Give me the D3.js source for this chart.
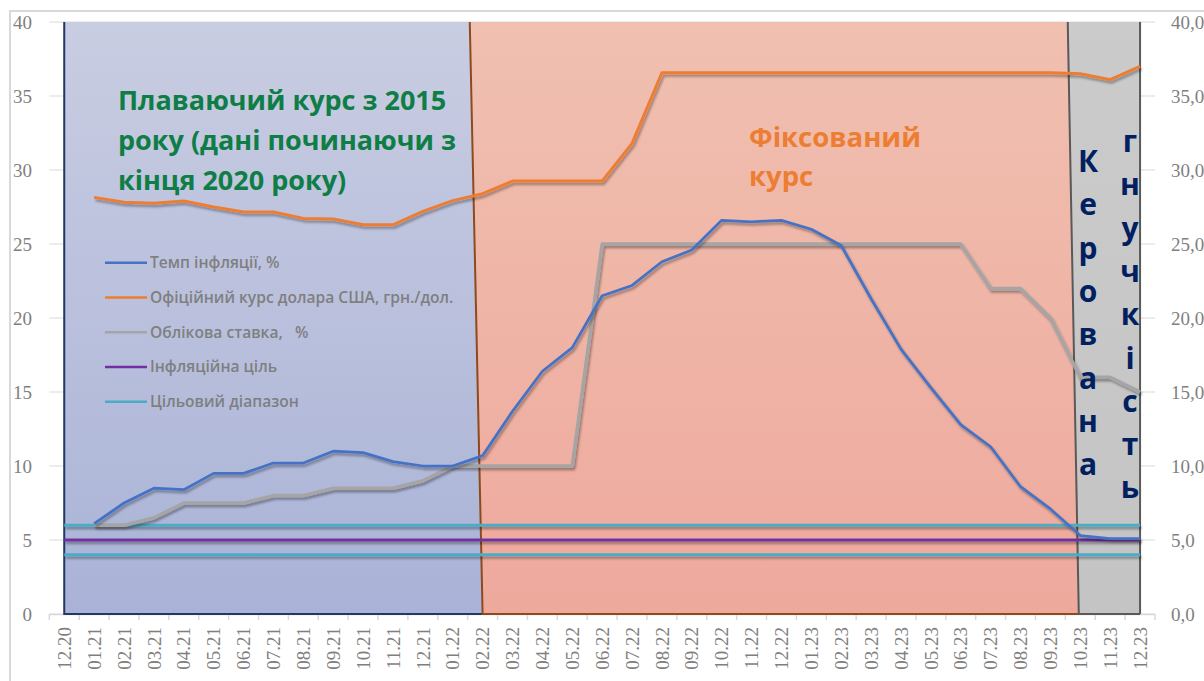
<!DOCTYPE html>
<html>
<head>
<meta charset="utf-8">
<script src="https://cdn.jsdelivr.net/npm/d3@7"></script>
<style>
  html, body { margin: 0; padding: 0; background: #fff; }
  svg { display: block; }
</style>
</head>
<body>
<div id="chart"></div>
<script>
// Months (12.20 .. 12.23)
var months = ["12.20","01.21","02.21","03.21","04.21","05.21","06.21","07.21","08.21","09.21","10.21","11.21",
  "12.21","01.22","02.22","03.22","04.22","05.22","06.22","07.22","08.22","09.22","10.22","11.22",
  "12.22","01.23","02.23","03.23","04.23","05.23","06.23","07.23","08.23","09.23","10.23","11.23","12.23"];

// Inflation, %
var inflation = [null, 6.1, 7.5, 8.5, 8.4, 9.5, 9.5, 10.2, 10.2, 11.0, 10.9, 10.3, 10.0, 10.0, 10.7,
  13.7, 16.4, 18.0, 21.5, 22.2, 23.8, 24.6, 26.6, 26.5, 26.6, 26.0, 24.9, 21.3, 17.9, 15.3, 12.8,
  11.3, 8.6, 7.1, 5.3, 5.1, 5.1];

// Official UAH/USD rate
var usdRate = [null, 28.15, 27.82, 27.75, 27.9, 27.5, 27.16, 27.16, 26.73, 26.69, 26.3, 26.3, 27.2, 27.93, 28.4,
  29.25, 29.25, 29.25, 29.25, 31.8, 36.57, 36.57, 36.57, 36.57, 36.57, 36.57, 36.57, 36.57, 36.57, 36.57,
  36.57, 36.57, 36.57, 36.57, 36.5, 36.1, 37.0];

// Key policy rate, %
var keyRate = [null, 6, 6, 6.5, 7.5, 7.5, 7.5, 8, 8, 8.5, 8.5, 8.5, 9, 10, 10, 10, 10, 10,
  25, 25, 25, 25, 25, 25, 25, 25, 25, 25, 25, 25, 25, 22, 22, 20, 16, 16, 15];

// Inflation target and target range
var target = months.map(function() { return 5; });
var rangeLow = months.map(function() { return 4; });
var rangeHigh = months.map(function() { return 6; });

// Regime periods (month index; top / bottom edge of each slanted boundary)
var regimes = [
  { key: "float",   topFrom: 0,     topTo: 13.57, botFrom: 0,     botTo: 14 },
  { key: "fixed",   topFrom: 13.57, topTo: 33.58, botFrom: 14,    botTo: 33.95 },
  { key: "managed", topFrom: 33.58, topTo: 36,    botFrom: 33.95, botTo: 36 }
];

var yTicks = [0, 5, 10, 15, 20, 25, 30, 35, 40];

var legendItems = [
  { label: "Темп інфляції, %", color: "#4472c4" },
  { label: "Офіційний курс долара США, грн./дол.", color: "#ed7d31" },
  { label: "Облікова ставка,   %", color: "#a5a5a5" },
  { label: "Інфляційна ціль", color: "#7030a0" },
  { label: "Цільовий діапазон", color: "#4bacc6" }
];

var W = 1204, H = 681;
var svg = d3.select("#chart").append("svg").attr("width", W).attr("height", H);
var defs = svg.append("defs");

var x = d3.scaleBand().domain(months).range([49.3, 1155]).padding(0);
var bw = x.bandwidth();
var cx = function(i) { return x(months[i]) + bw / 2; };
var xi = d3.scaleLinear().domain([0, months.length - 1]).range([cx(0), cx(months.length - 1)]);
var y = d3.scaleLinear().domain([0, 40]).range([614, 22]);

// gradients
function grad(id, c1, c2) {
  var g = defs.append("linearGradient").attr("id", id).attr("x1", 0).attr("y1", 0).attr("x2", 0).attr("y2", 1);
  g.append("stop").attr("offset", "0%").attr("stop-color", c1);
  g.append("stop").attr("offset", "100%").attr("stop-color", c2);
}
grad("gFloat", "#c9cde2", "#aab3d7");
grad("gFixed", "#f0c0b0", "#eea99d");
grad("gManaged", "#cbcbcb", "#c4c4c4");

// shadow (user space so flat lines keep it)
var shadow = defs.append("filter").attr("id", "shadow").attr("filterUnits", "userSpaceOnUse")
  .attr("x", 0).attr("y", 0).attr("width", W).attr("height", H);
shadow.append("feDropShadow").attr("dx", 1.5).attr("dy", 2.5).attr("stdDeviation", 1.3)
  .attr("flood-color", "#000").attr("flood-opacity", 0.35);

// chart border
svg.append("rect").attr("x", 10).attr("y", 11).attr("width", W + 20).attr("height", H + 20)
  .attr("fill", "none").attr("stroke", "#d9d9d9").attr("stroke-width", 2);

// gridlines
svg.append("g").selectAll("line").data(yTicks).enter().append("line")
  .attr("x1", 49.3).attr("x2", 1155)
  .attr("y1", function(d) { return y(d); }).attr("y2", function(d) { return y(d); })
  .attr("stroke", "#d9d9d9").attr("stroke-width", 1);

// x axis line + ticks
svg.append("line").attr("x1", 49.3).attr("x2", 1155).attr("y1", y(0) + 0.5).attr("y2", y(0) + 0.5)
  .attr("stroke", "#d9d9d9").attr("stroke-width", 1.5);
var edges = months.map(function(m) { return x(m); }).concat([1155]);
svg.append("g").selectAll("line").data(edges).enter().append("line")
  .attr("x1", function(d) { return d; }).attr("x2", function(d) { return d; })
  .attr("y1", y(0)).attr("y2", y(0) + 6)
  .attr("stroke", "#d9d9d9").attr("stroke-width", 1.5);

// regime regions
var fills = { float: "url(#gFloat)", fixed: "url(#gFixed)", managed: "url(#gManaged)" };
var edgeColor = { float: "#1f3864", fixed: "#8e4a1c", managed: "#595959" };
var regG = svg.append("g");
regimes.forEach(function(r) {
  var pts = [[xi(r.topFrom), y(40)], [xi(r.topTo), y(40)], [xi(r.botTo), y(0)], [xi(r.botFrom), y(0)]];
  regG.append("path").attr("d", "M" + pts.join("L") + "Z").attr("fill", fills[r.key]);
});
regimes.forEach(function(r) {
  // left edge and bottom
  regG.append("path")
    .attr("d", "M" + [[xi(r.topFrom), y(40)], [xi(r.botFrom), y(0)], [xi(r.botTo), y(0)]].join("L"))
    .attr("fill", "none").attr("stroke", edgeColor[r.key]).attr("stroke-width", 2);
});
var last = regimes[regimes.length - 1];
regG.append("line").attr("x1", xi(last.topTo)).attr("x2", xi(last.botTo)).attr("y1", y(40)).attr("y2", y(0))
  .attr("stroke", edgeColor[last.key]).attr("stroke-width", 2);

// series lines
var line = d3.line()
  .defined(function(d) { return d != null; })
  .x(function(d, i) { return cx(i); })
  .y(function(d) { return y(d); });

function drawSeries(data, color, width) {
  svg.append("path").datum(data).attr("d", line)
    .attr("fill", "none").attr("stroke", color).attr("stroke-width", width)
    .attr("stroke-linejoin", "round").attr("filter", "url(#shadow)");
}
drawSeries(rangeLow, "#4bacc6", 3);
drawSeries(rangeHigh, "#4bacc6", 3);
drawSeries(target, "#7030a0", 3);
drawSeries(keyRate, "#a5a5a5", 3.5);
drawSeries(usdRate, "#ed7d31", 3);
drawSeries(inflation, "#4472c4", 2.75);

// y axis labels
svg.append("g").selectAll("text").data(yTicks).enter().append("text")
  .attr("x", 32).attr("y", function(d) { return y(d); }).attr("dy", "0.35em")
  .attr("text-anchor", "end").attr("fill", "#7f7f7f")
  .style("font-family", "'Liberation Serif', serif").style("font-size", "19px")
  .text(function(d) { return d; });
svg.append("g").selectAll("text").data(yTicks).enter().append("text")
  .attr("x", 1171).attr("y", function(d) { return y(d); }).attr("dy", "0.35em")
  .attr("text-anchor", "start").attr("fill", "#7f7f7f")
  .style("font-family", "'Liberation Serif', serif").style("font-size", "19px")
  .text(function(d) { return d.toFixed(1).replace(".", ","); });

// x axis labels
svg.append("g").selectAll("text").data(months).enter().append("text")
  .attr("transform", function(d) { return "translate(" + (x(d) + bw / 2) + "," + 627 + ") rotate(-90)"; })
  .attr("dy", "0.35em").attr("text-anchor", "end").attr("fill", "#7f7f7f")
  .style("font-family", "'Liberation Serif', serif").style("font-size", "19px")
  .text(function(d) { return d; });

// annotations
var green = svg.append("text").attr("fill", "#0e7d46")
  .style("font-family", "'Open Sans', sans-serif").style("font-weight", 700).style("font-size", "27px");
["Плаваючий курс з 2015", "року (дані починаючи з", "кінця 2020 року)"].forEach(function(t, i) {
  green.append("tspan").attr("x", 118).attr("y", 110 + i * 40).text(t);
});

var orange = svg.append("text").attr("fill", "#ed7d31")
  .style("font-family", "'Open Sans', sans-serif").style("font-weight", 700).style("font-size", "27.5px");
["Фіксований", "курс"].forEach(function(t, i) {
  orange.append("tspan").attr("x", 749).attr("y", 147 + i * 39).text(t);
});

function vertical(word, xc, y0) {
  svg.append("g").selectAll("text").data(word.split("")).enter().append("text")
    .attr("x", xc).attr("y", function(d, i) { return y0 + i * 43.3; })
    .attr("text-anchor", "middle").attr("fill", "#002060")
    .style("font-family", "'Open Sans', sans-serif").style("font-weight", 700).style("font-size", "30px")
    .text(function(d) { return d; });
}
vertical("Керована", 1088, 172);
vertical("гнучкість", 1130, 152);

// legend
var lg = svg.append("g").selectAll("g").data(legendItems).enter().append("g")
  .attr("transform", function(d, i) { return "translate(105," + (262.7 + i * 34.75) + ")"; });
lg.append("line").attr("x1", 0).attr("x2", 42).attr("stroke", function(d) { return d.color; }).attr("stroke-width", 2.5);
lg.append("text").attr("x", 45).attr("dy", "0.35em").attr("fill", "#7f7f7f")
  .style("font-family", "'Open Sans', sans-serif").style("font-weight", 600).style("font-size", "15.6px")
  .style("white-space", "pre")
  .text(function(d) { return d.label; });
</script>
</body>
</html>
